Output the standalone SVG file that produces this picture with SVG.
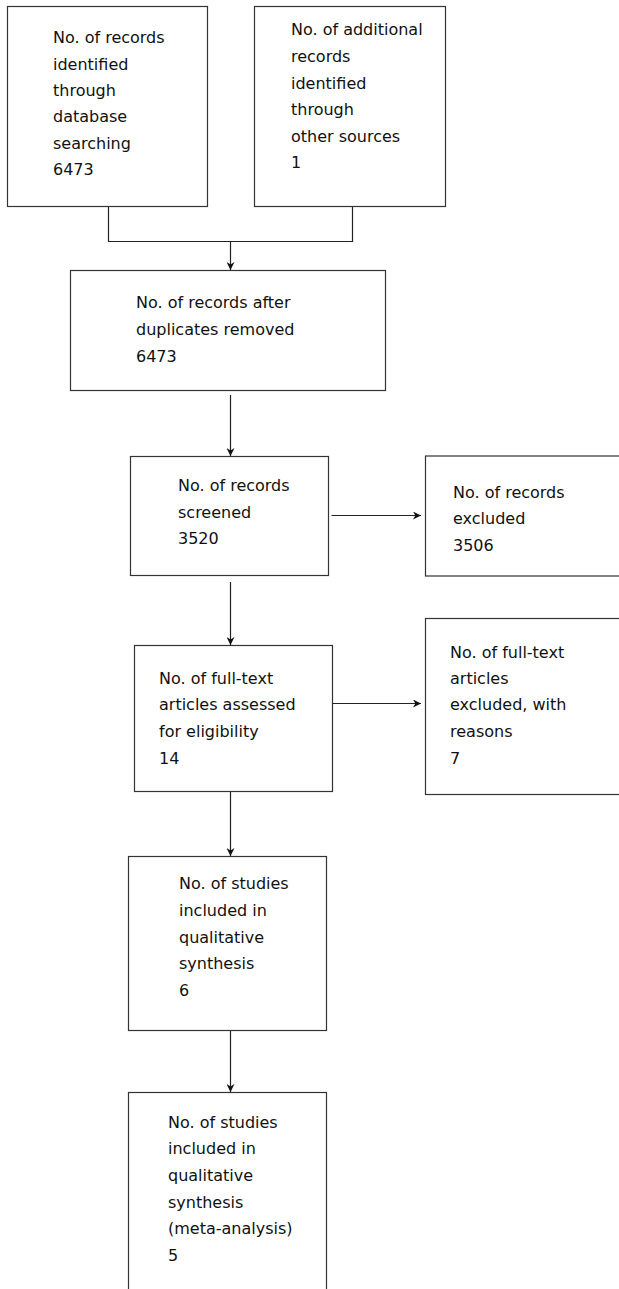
<svg xmlns="http://www.w3.org/2000/svg" width="619" height="1289" viewBox="0 0 619 1289">
<defs>
<style>
.box{fill:#fff;stroke:#333;stroke-width:1.2}
.con{fill:none;stroke:#222;stroke-width:1.2}
text{font-family:"DejaVu Sans","Verdana",sans-serif;font-size:16px;fill:#111}
</style>
<marker id="ah" viewBox="0 0 10 10" refX="10" refY="5" markerWidth="9" markerHeight="8" markerUnits="userSpaceOnUse" orient="auto">
<path d="M0,0 L10,5 L0,10 L3,5 z" fill="#111"/>
</marker>
</defs>
<rect width="619" height="1289" fill="#fff"/>
<g id="n1"><rect class="box" x="7.5" y="6.5" width="200" height="200"/>
<text x="53"><tspan x="53" y="43">No. of records</tspan><tspan x="53" y="69.5">identified</tspan><tspan x="53" y="96">through</tspan><tspan x="53" y="122">database</tspan><tspan x="53" y="148.5">searching</tspan><tspan x="53" y="175">6473</tspan></text></g>
<g id="n2"><rect class="box" x="254.5" y="6.5" width="191" height="200"/>
<text><tspan x="291" y="35">No. of additional</tspan><tspan x="291" y="62">records</tspan><tspan x="291" y="88.5">identified</tspan><tspan x="291" y="115">through</tspan><tspan x="291" y="141.5">other sources</tspan><tspan x="291" y="168">1</tspan></text></g>
<g id="n3"><rect class="box" x="70.5" y="270.5" width="315" height="120"/>
<text><tspan x="136" y="307.5">No. of records after</tspan><tspan x="136" y="334.5">duplicates removed</tspan><tspan x="136" y="361.5">6473</tspan></text></g>
<g id="n4"><rect class="box" x="130.5" y="456.5" width="198" height="119"/>
<text><tspan x="178" y="491">No. of records</tspan><tspan x="178" y="517.5">screened</tspan><tspan x="178" y="543.5">3520</tspan></text></g>
<g id="n5"><rect class="box" x="425.5" y="456" width="200" height="120"/>
<text><tspan x="453" y="497.5">No. of records</tspan><tspan x="453" y="524">excluded</tspan><tspan x="453" y="551">3506</tspan></text></g>
<g id="n6"><rect class="box" x="134.5" y="645.5" width="198" height="146"/>
<text><tspan x="159" y="684">No. of full-text</tspan><tspan x="159" y="710">articles assessed</tspan><tspan x="159" y="737">for eligibility</tspan><tspan x="159" y="763.5">14</tspan></text></g>
<g id="n7"><rect class="box" x="425.5" y="618.5" width="200" height="176"/>
<text><tspan x="450" y="657.5">No. of full-text</tspan><tspan x="450" y="684">articles</tspan><tspan x="450" y="710">excluded, with</tspan><tspan x="450" y="737">reasons</tspan><tspan x="450" y="763.5">7</tspan></text></g>
<g id="n8"><rect class="box" x="128.5" y="856.5" width="198" height="174"/>
<text><tspan x="179" y="889">No. of studies</tspan><tspan x="179" y="915.5">included in</tspan><tspan x="179" y="942.5">qualitative</tspan><tspan x="179" y="969">synthesis</tspan><tspan x="179" y="995.5">6</tspan></text></g>
<g id="n9"><rect class="box" x="128.5" y="1092.5" width="198" height="205"/>
<text><tspan x="168" y="1127.5">No. of studies</tspan><tspan x="168" y="1154">included in</tspan><tspan x="168" y="1181">qualitative</tspan><tspan x="168" y="1207.5">synthesis</tspan><tspan x="168" y="1234">(meta-analysis)</tspan><tspan x="168" y="1261">5</tspan></text></g>
<g id="connectors">
<path class="con" d="M108.5,207 V241.5 H352.5 V207"/>
<path class="con" d="M230.5,241.5 V270" marker-end="url(#ah)"/>
<path class="con" d="M230.5,395 V456" marker-end="url(#ah)"/>
<path class="con" d="M331.5,515.5 H421" marker-end="url(#ah)"/>
<path class="con" d="M230.5,582 V645" marker-end="url(#ah)"/>
<path class="con" d="M332.5,703.5 H421" marker-end="url(#ah)"/>
<path class="con" d="M230.5,792 V856" marker-end="url(#ah)"/>
<path class="con" d="M230.5,1031 V1092" marker-end="url(#ah)"/>
</g>
</svg>
